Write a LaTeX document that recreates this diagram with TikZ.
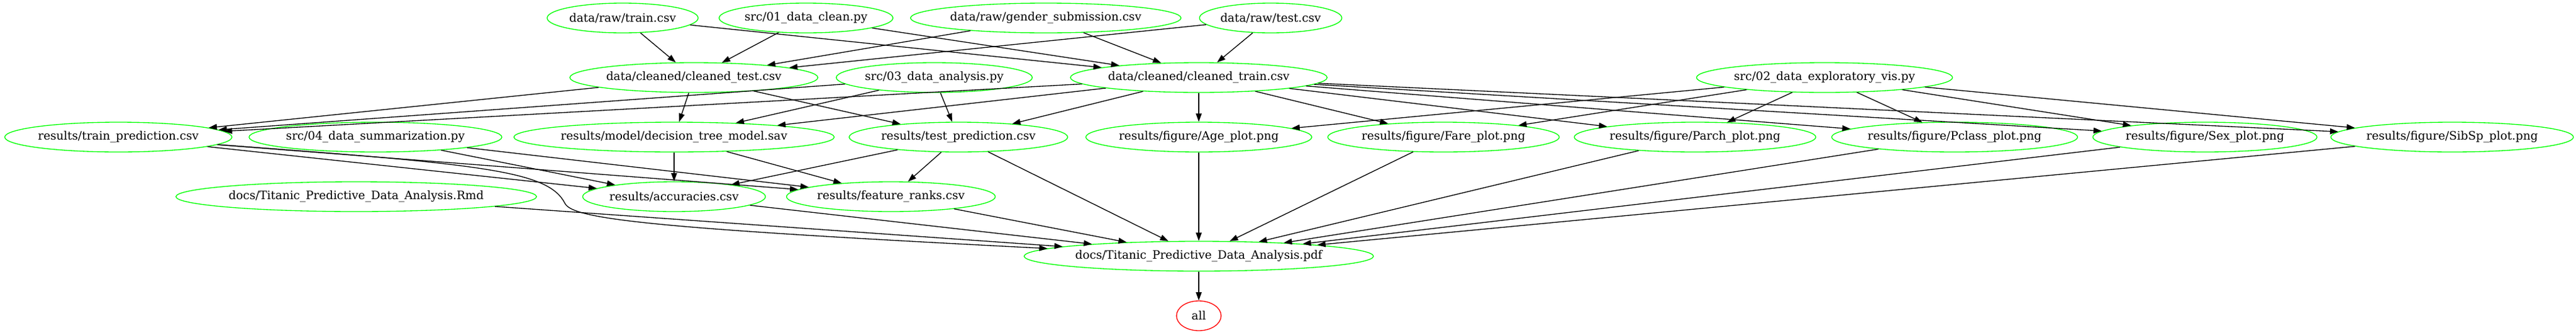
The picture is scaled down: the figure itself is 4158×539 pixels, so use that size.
\documentclass[tikz,border=0pt]{standalone}
\usepackage{fontspec}
\setmainfont{DejaVu Serif}
\usepackage{tikz}
\usetikzlibrary{arrows.meta,shapes.geometric}
\definecolor{makegreen}{RGB}{0,255,0}
\definecolor{makered}{RGB}{255,0,0}
\tikzset{
 target/.style={ellipse, draw=makegreen, line width=1bp, inner sep=0pt, minimum height=36bp, minimum width=54bp, font=\fontsize{14bp}{17bp}\selectfont},
 phony/.style={target, draw=makered},
 dep/.style={-{Triangle[length=10bp,width=7bp]}, line width=1bp}
}

\begin{document}
\begin{tikzpicture}[x=0.75bp, y=-0.75bp]
 \useasboundingbox (0,0) rectangle (4158,539);
%
 \node[target] (rawtrain) at (1005,29) {data/raw/train.csv};
 \node[target] (clean) at (1301,29) {src/01\_data\_clean.py};
 \node[target] (gender) at (1688,29) {data/raw/gender\_submission.csv};
 \node[target] (rawtest) at (2051,29) {data/raw/test.csv};
%
 \node[target] (cleantest) at (1120,125) {data/cleaned/cleaned\_test.csv};
 \node[target] (analysis) at (1508,125) {src/03\_data\_analysis.py};
 \node[target] (cleantrain) at (1935,125) {data/cleaned/cleaned\_train.csv};
 \node[target] (explore) at (2945,125) {src/02\_data\_exploratory\_vis.py};
%
 \node[target] (trainpred) at (191,221) {results/train\_prediction.csv};
 \node[target] (summary) at (606,221) {src/04\_data\_summarization.py};
 \node[target] (model) at (1088,221) {results/model/decision\_tree\_model.sav};
 \node[target] (testpred) at (1547,221) {results/test\_prediction.csv};
 \node[target] (age) at (1935,221) {results/figure/Age\_plot.png};
 \node[target] (fare) at (2330,221) {results/figure/Fare\_plot.png};
 \node[target] (parch) at (2736,221) {results/figure/Parch\_plot.png};
 \node[target] (pclass) at (3155,221) {results/figure/Pclass\_plot.png};
 \node[target] (sex) at (3559,221) {results/figure/Sex\_plot.png};
 \node[target] (sibsp) at (3958,221) {results/figure/SibSp\_plot.png};
%
 \node[target] (rmd) at (575,317) {docs/Titanic\_Predictive\_Data\_Analysis.Rmd};
 \node[target] (acc) at (1088,317) {results/accuracies.csv};
 \node[target] (ranks) at (1438,317) {results/feature\_ranks.csv};
%
 \node[target] (pdf) at (1935,413) {docs/Titanic\_Predictive\_Data\_Analysis.pdf};
 \node[phony] (all) at (1935,509) {all};
%
 \draw[dep] (rawtrain) -- (cleantest);
 \draw[dep] (rawtrain) -- (cleantrain);
 \draw[dep] (clean) -- (cleantest);
 \draw[dep] (clean) -- (cleantrain);
 \draw[dep] (gender) -- (cleantest);
 \draw[dep] (gender) -- (cleantrain);
 \draw[dep] (rawtest) -- (cleantest);
 \draw[dep] (rawtest) -- (cleantrain);
%
 \draw[dep] (cleantest) -- (trainpred);
 \draw[dep] (cleantest) -- (model);
 \draw[dep] (cleantest) -- (testpred);
 \draw[dep] (analysis) -- (trainpred);
 \draw[dep] (analysis) -- (model);
 \draw[dep] (analysis) -- (testpred);
 \draw[dep] (cleantrain) -- (trainpred);
 \draw[dep] (cleantrain) -- (model);
 \draw[dep] (cleantrain) -- (testpred);
 \draw[dep] (cleantrain) -- (age);
 \draw[dep] (cleantrain) -- (fare);
 \draw[dep] (cleantrain) -- (parch);
 \draw[dep] (cleantrain) -- (pclass);
 \draw[dep] (cleantrain) -- (sex);
 \draw[dep] (cleantrain) -- (sibsp);
 \draw[dep] (explore) -- (age);
 \draw[dep] (explore) -- (fare);
 \draw[dep] (explore) -- (parch);
 \draw[dep] (explore) -- (pclass);
 \draw[dep] (explore) -- (sex);
 \draw[dep] (explore) -- (sibsp);
%
 \draw[dep] (trainpred) -- (acc);
 \draw[dep] (trainpred) -- (ranks);
 \draw[dep] (summary) -- (acc);
 \draw[dep] (summary) -- (ranks);
 \draw[dep] (model) -- (acc);
 \draw[dep] (model) -- (ranks);
 \draw[dep] (testpred) -- (acc);
 \draw[dep] (testpred) -- (ranks);
%
 \coordinate (bend) at (912,328);
 \draw[dep] (trainpred) .. controls (780,265) and (885,275) .. (bend) .. controls (925,353) and (1050,368) .. (pdf);
 \draw[dep] (testpred) -- (pdf);
 \draw[dep] (rmd) -- (pdf);
 \draw[dep] (acc) -- (pdf);
 \draw[dep] (ranks) -- (pdf);
 \draw[dep] (age) -- (pdf);
 \draw[dep] (fare) -- (pdf);
 \draw[dep] (parch) -- (pdf);
 \draw[dep] (pclass) -- (pdf);
 \draw[dep] (sex) -- (pdf);
 \draw[dep] (sibsp) -- (pdf);
 \draw[dep] (pdf) -- (all);
\end{tikzpicture}
\end{document}
